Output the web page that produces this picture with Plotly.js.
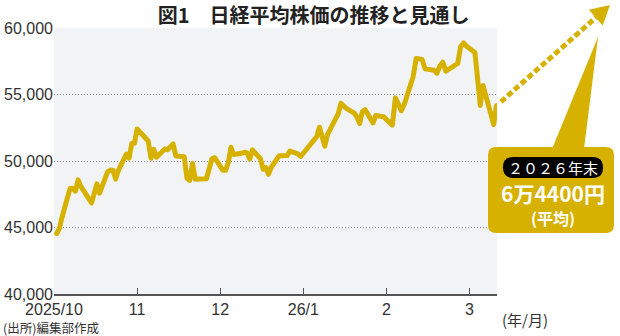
<!DOCTYPE html>
<html><head><meta charset="utf-8">
<script src="https://cdn.plot.ly/plotly-3.0.1.min.js"></script>
<style>
html,body{margin:0;padding:0;background:#fff;}
#chart{width:620px;height:336px;}
.scatterlayer .js-line{stroke-linejoin:round;stroke-linecap:round;}
</style></head><body><div id="chart"></div>
<script>
// ---- data (Nikkei 225 daily close) ----
const dates = [
 '2025-10-01','2025-10-02','2025-10-03','2025-10-06','2025-10-07','2025-10-08','2025-10-09','2025-10-10',
 '2025-10-14','2025-10-15','2025-10-16','2025-10-17','2025-10-20','2025-10-21','2025-10-22','2025-10-23',
 '2025-10-24','2025-10-27','2025-10-28','2025-10-29','2025-10-30','2025-10-31',
 '2025-11-04','2025-11-05','2025-11-06','2025-11-07','2025-11-10','2025-11-11','2025-11-12','2025-11-13',
 '2025-11-14','2025-11-17','2025-11-18','2025-11-19','2025-11-20','2025-11-21','2025-11-25','2025-11-26',
 '2025-11-27','2025-11-28',
 '2025-12-01','2025-12-02','2025-12-03','2025-12-04','2025-12-05','2025-12-08','2025-12-09','2025-12-10',
 '2025-12-11','2025-12-12','2025-12-15','2025-12-16','2025-12-17','2025-12-18','2025-12-19','2025-12-22',
 '2025-12-23','2025-12-24','2025-12-25','2025-12-26','2025-12-29','2025-12-30',
 '2026-01-05','2026-01-06','2026-01-07','2026-01-08','2026-01-09','2026-01-13','2026-01-14','2026-01-15',
 '2026-01-16','2026-01-19','2026-01-20','2026-01-21','2026-01-22','2026-01-23','2026-01-26','2026-01-27',
 '2026-01-28','2026-01-29','2026-01-30',
 '2026-02-02','2026-02-03','2026-02-04','2026-02-05','2026-02-06','2026-02-09','2026-02-10','2026-02-12',
 '2026-02-13','2026-02-16','2026-02-17','2026-02-18','2026-02-19','2026-02-20','2026-02-24','2026-02-25',
 '2026-02-26','2026-02-27',
 '2026-03-02','2026-03-03','2026-03-04','2026-03-05','2026-03-06','2026-03-09','2026-03-10'
];
const closes = [
 44550,44940,45770,47940,47950,47730,48580,48090,
 46850,47670,48280,47580,49190,49320,49310,48640,
 49300,50510,50220,51310,51330,52410,
 51500,50210,50880,50280,50910,50840,51060,51280,
 50380,50320,48700,48540,49820,48630,48660,49560,
 50170,50250,
 49300,49300,49860,51030,50490,50580,50660,50600,
 50150,50840,50170,49380,49510,49000,49510,50400,
 50410,50340,50410,50750,50530,50340,
 51830,52540,51960,51120,51990,53550,54340,54110,
 53960,53600,53300,52820,53690,53860,52870,53420,
 53400,53380,53320,
 52700,54740,54290,53780,54250,56360,57700,57640,
 56930,56820,56600,57140,57430,56760,57330,58600,
 58880,58620,
 58150,55700,54170,55680,55000,52740,54150
];
const tickMonths = [0,1,2,3,4,5];
const tickLabels = ['2025/10','11','12','26/1','2','3'];
const yTicks = [40000,45000,50000,55000,60000];
const titleText = '図1　日経平均株価の推移と見通し';
const unitText = '(年/月)';
const sourceText = '(出所)編集部作成';
const forecastLabel = '２０２６年末';
const forecastValue = '6万4400円';
const forecastNote = '(平均)';

// ---- layout helpers ----
const GOLD = '#d7b100';
const W = 620, H = 336;
const M = {l:54, r:123, t:28, b:42};
const PW = W - M.l - M.r, PH = H - M.t - M.b;
const XR = [0, 5.33], YR = [40000, 60000];

// calendar date -> month position (0 = start of Oct 2025, evenly spaced months)
function monthPos(s){
  const [y,m,d] = s.split('-').map(Number);
  const dim = new Date(y, m, 0).getDate();
  return (y-2025)*12 + (m-10) + d/dim;
}
const xs = dates.map(monthPos);

const px = x => (x - M.l)/PW;          // pixel -> paper
const py = y => 1 - (y - M.t)/PH;
const P = (x,y) => px(x).toFixed(5) + ',' + py(y).toFixed(5);
function rr(x0,y0,x1,y1,r){
  return 'M'+P(x0+r,y0)+' L'+P(x1-r,y0)+' Q'+P(x1,y0)+' '+P(x1,y0+r)+
         ' L'+P(x1,y1-r)+' Q'+P(x1,y1)+' '+P(x1-r,y1)+
         ' L'+P(x0+r,y1)+' Q'+P(x0,y1)+' '+P(x0,y1-r)+
         ' L'+P(x0,y0+r)+' Q'+P(x0,y0)+' '+P(x0+r,y0)+' Z';
}

// last data point in pixels (through the axis scales)
const lastX = xs[xs.length-1], lastV = closes[closes.length-1];
const lx = M.l + (lastX - XR[0])/(XR[1]-XR[0])*PW;
const ly = M.t + (YR[1] - lastV)/(YR[1]-YR[0])*PH;
const tip = [610, 5];
let dx = tip[0]-lx, dy = tip[1]-ly; const dl = Math.hypot(dx,dy); dx/=dl; dy/=dl;
const headLen = 19, headHalf = 10.5;
const base = [tip[0]-headLen*dx, tip[1]-headLen*dy];
const st = [lx + 6*dx, ly + 6*dy];

const shapes = [
  {type:'path', xref:'paper', yref:'paper', path:'M'+P(552,149)+' L'+P(584,149)+' L'+P(598,37)+' Z',
   fillcolor:GOLD, line:{width:0}, layer:'above'},
  {type:'path', xref:'paper', yref:'paper', path:rr(488,147,614,233,8),
   fillcolor:GOLD, line:{width:0}, layer:'above'},
  {type:'path', xref:'paper', yref:'paper', path:rr(503,157,603,178,10.5),
   fillcolor:'#000', line:{width:0}, layer:'above'},
  {type:'line', xref:'paper', yref:'paper', x0:px(st[0]), y0:py(st[1]), x1:px(base[0]+2*dx), y1:py(base[1]+2*dy),
   line:{color:GOLD, width:5, dash:'6px,3px'}, layer:'above'},
  {type:'path', xref:'paper', yref:'paper',
   path:'M'+P(tip[0],tip[1])+' L'+P(base[0]-headHalf*dy, base[1]+headHalf*dx)+' L'+P(base[0]+headHalf*dy, base[1]-headHalf*dx)+' Z',
   fillcolor:GOLD, line:{width:0}, layer:'above'}
];

const JP = '"Noto Sans CJK JP", "Noto Sans", sans-serif';
const LAT = '"Liberation Sans", Arial, sans-serif';

const annotations = [
  {text:unitText, xref:'paper', yref:'paper', x:px(525), y:py(319), xanchor:'center', yanchor:'middle',
   showarrow:false, font:{family:JP, size:15, color:'#333'}},
  {text:sourceText, xref:'paper', yref:'paper', x:px(1), y:py(327), xanchor:'left', yanchor:'middle',
   showarrow:false, font:{family:JP, size:12.5, color:'#333'}},
  {text:forecastLabel, xref:'paper', yref:'paper', x:px(553), y:py(167.5), xanchor:'center', yanchor:'middle',
   showarrow:false, font:{family:JP, size:15, color:'#fff'}},
  {text:'<b>'+forecastValue+'</b>', xref:'paper', yref:'paper', x:px(553), y:py(192.5), xanchor:'center', yanchor:'middle',
   showarrow:false, font:{family:JP, size:21, color:'#fff'}},
  {text:'<b>'+forecastNote+'</b>', xref:'paper', yref:'paper', x:px(553), y:py(217.5), xanchor:'center', yanchor:'middle',
   showarrow:false, font:{family:JP, size:16, color:'#fff'}}
];

const trace = {
  x: xs, y: closes, type:'scatter', mode:'lines',
  line:{color:GOLD, width:5}, hoverinfo:'skip', cliponaxis:false
};

const layout = {
  width:W, height:H, margin:M,
  paper_bgcolor:'#fff', plot_bgcolor:'#f2f3f5', showlegend:false,
  title:{text:'<b>'+titleText+'</b>', xref:'container', yref:'container', x:0.506, y:1-16/H,
         xanchor:'center', yanchor:'middle', font:{family:JP, size:20, color:'#222'}},
  xaxis:{range:XR, tickmode:'array', tickvals:tickMonths, ticktext:tickLabels,
         ticks:'inside', ticklen:6, tickwidth:1, tickcolor:'#555',
         showline:true, linecolor:'#555', linewidth:1.5, showgrid:false, zeroline:false,
         tickfont:{family:LAT, size:16, color:'#333'}, fixedrange:true},
  yaxis:{range:YR, tickmode:'array', tickvals:yTicks, tickformat:',d', ticks:'',
         showgrid:true, gridcolor:'#8c8c8c', gridwidth:1, griddash:'1px,2px',
         showline:false, zeroline:false, tickfont:{family:LAT, size:16, color:'#333'}, fixedrange:true},
  shapes, annotations
};

Plotly.newPlot('chart', [trace], layout, {staticPlot:true, displayModeBar:false});
</script></body></html>
